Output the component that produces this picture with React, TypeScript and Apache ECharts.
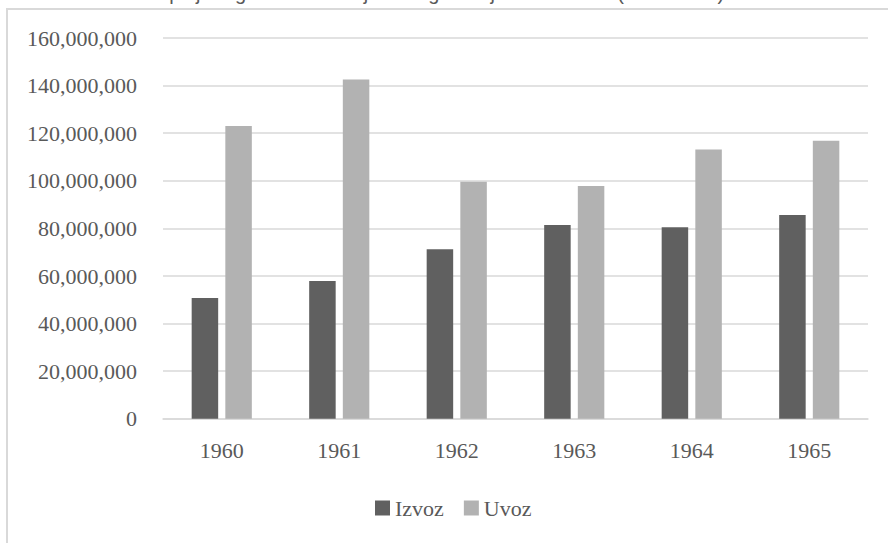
import React, { useEffect, useRef } from "react";
import * as echarts from "echarts";

const years = ["1960", "1961", "1962", "1963", "1964", "1965"];
const izvoz = [50800000, 57900000, 71200000, 81400000, 80500000, 85600000];
const uvoz = [123000000, 142600000, 99600000, 97800000, 113200000, 116800000];
const seriesNames = ["Izvoz", "Uvoz"];
const titleText = "Spoljnotrgovinska razmjena Jugoslavije 1960–1965 (u dolarima)";

const FONT = "'Liberation Serif', 'Times New Roman', serif";
const TEXT = "#595959";
const GRID = "#d9d9d9";

export default function App() {
  const ref = useRef<HTMLDivElement>(null);
  useEffect(() => {
    if (!ref.current) return;
    const chart = echarts.init(ref.current, undefined, { renderer: "svg" });
    chart.setOption({
      animation: false,
      backgroundColor: "#ffffff",
      graphic: [
        {
          type: "rect",
          shape: { x: 7, y: 9, width: 1000, height: 1000 },
          style: { fill: "none", stroke: GRID, lineWidth: 2 },
          silent: true,
        },
        {
          type: "text",
          x: 440,
          y: 3,
          style: {
            text: titleText,
            font: "20px 'Liberation Sans', Arial, sans-serif",
            fill: TEXT,
            align: "center",
            verticalAlign: "bottom",
          },
        },
      ],
      grid: { left: 163, right: 20, top: 38, bottom: 124.2, containLabel: false },
      legend: {
        data: seriesNames,
        left: 375,
        top: 497,
        padding: 0,
        itemWidth: 15,
        itemHeight: 15,
        itemGap: 20,
        icon: "rect",
        textStyle: { fontFamily: FONT, fontSize: 22, color: TEXT },
      },
      xAxis: {
        type: "category",
        data: years,
        axisLine: { lineStyle: { color: GRID, width: 1.5 } },
        axisTick: { show: false },
        axisLabel: { fontFamily: FONT, fontSize: 22, color: TEXT, margin: 21 },
      },
      yAxis: {
        type: "value",
        min: 0,
        max: 160000000,
        interval: 20000000,
        axisLine: { show: false },
        axisTick: { show: false },
        splitLine: { lineStyle: { color: GRID, width: 1.5 } },
        axisLabel: {
          fontFamily: FONT,
          fontSize: 22,
          color: TEXT,
          margin: 26,
          formatter: (v: number) => v.toLocaleString("en-US"),
        },
      },
      series: [
        {
          name: seriesNames[0],
          type: "bar",
          data: izvoz,
          barWidth: 26.5,
          barGap: "27%",
          itemStyle: { color: "#606060" },
        },
        {
          name: seriesNames[1],
          type: "bar",
          data: uvoz,
          barWidth: 26.5,
          barGap: "27%",
          itemStyle: { color: "#b2b2b2" },
        },
      ],
    });
    return () => chart.dispose();
  }, []);
  return (
    <div
      ref={ref}
      style={{ position: "fixed", left: 0, top: 0, width: 888, height: 543 }}
    />
  );
}
